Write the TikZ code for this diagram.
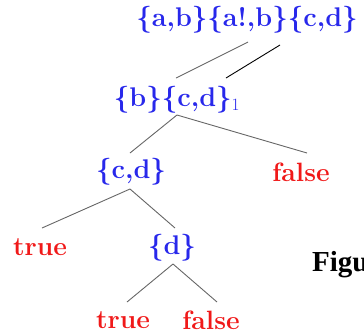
\documentclass[tikz,border=0pt]{standalone}
\usepackage{fontspec}
\newfontfamily\figfont{Liberation Serif}
\definecolor{nblue}{RGB}{40,40,235}
\definecolor{nred}{RGB}{240,25,25}
\begin{document}
\begin{tikzpicture}[x=1pt,y=-1pt,
  setnode/.style={text=nblue,font=\fontsize{27}{32}\selectfont\bfseries,inner sep=0pt},
  leaf/.style={text=nred,font=\fontsize{26.5}{32}\selectfont\bfseries,inner sep=0pt},
  edge/.style={draw=black!60, line width=0.9pt},
  edgeb/.style={draw=black, line width=0.9pt}]
\useasboundingbox (0,0) rectangle (364,333);
\node[setnode] (root) at (247,20) {\{a,b\}\{a!,b\}\{c,d\}};
\node[setnode] (bcd) at (177,100) {\{b\}\{c,d\}$_1$};
\node[setnode] (cd) at (131,172) {\{c,d\}};
\node[leaf] (f1) at (301,172) {false};
\node[leaf] (t1) at (40,247) {true};
\node[setnode] (d) at (172,248) {\{d\}};
\node[leaf] (t2) at (123,320) {true};
\node[leaf] (f2) at (211,320) {false};
\node[font=\figfont\fontsize{29}{34}\selectfont\bfseries,inner sep=0pt,anchor=west] (fig) at (312,265) {Figu};
% edge end points
\coordinate (r1) at (248,42); \coordinate (b1) at (176,78);
\coordinate (r2) at (280,45); \coordinate (b2) at (226,78);
\coordinate (bs) at (177,115); \coordinate (cn) at (130,153); \coordinate (fn) at (307,153);
\coordinate (cs) at (130,189); \coordinate (tn) at (42,228); \coordinate (dn) at (175,228);
\coordinate (ds) at (173,264); \coordinate (t2n) at (127,302); \coordinate (f2n) at (217,302);
\draw[edge] (r1) -- (b1);
\draw[edgeb] (r2) -- (b2);
\draw[edge] (bs) -- (cn);
\draw[edge] (bs) -- (fn);
\draw[edge] (cs) -- (tn);
\draw[edge] (cs) -- (dn);
\draw[edge] (ds) -- (t2n);
\draw[edge] (ds) -- (f2n);
\end{tikzpicture}
\end{document}
